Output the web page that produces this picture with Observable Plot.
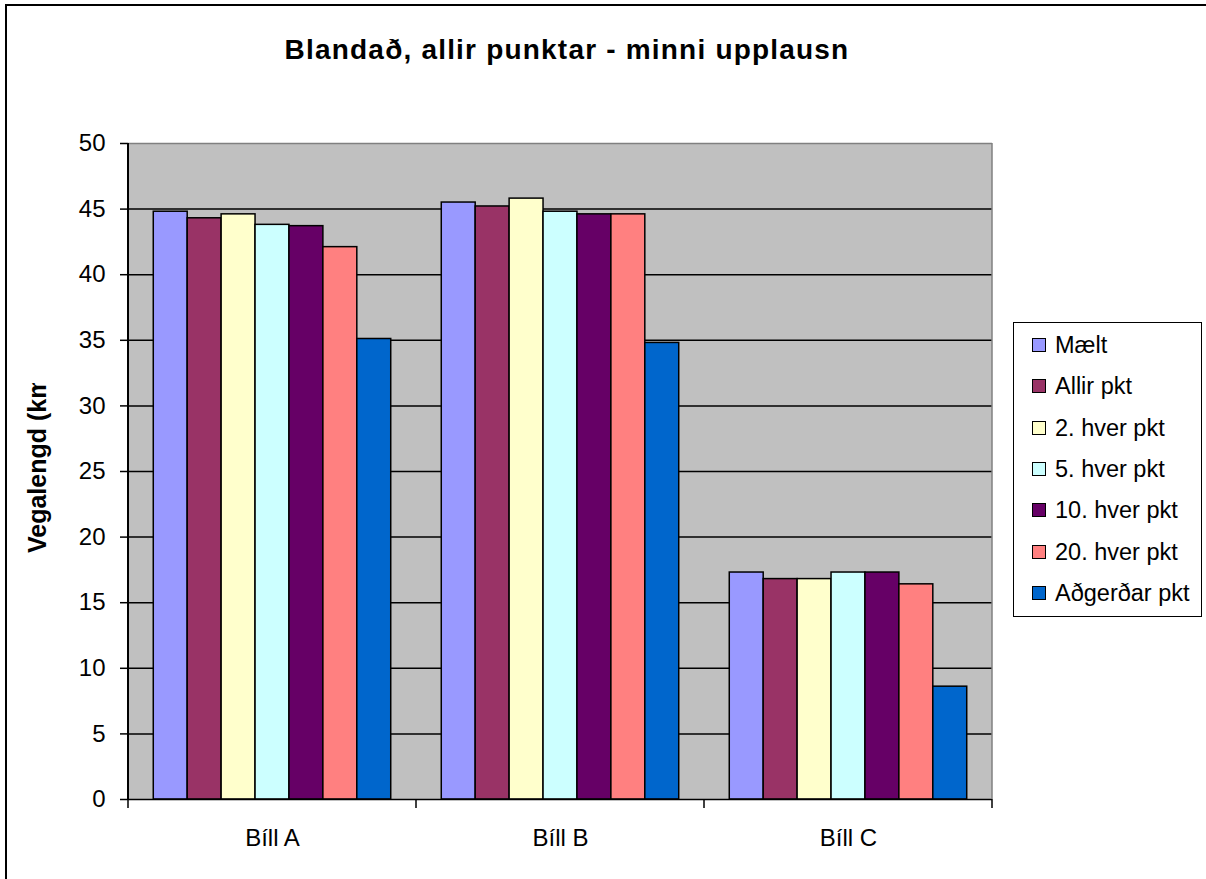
<!DOCTYPE html>
<html>
<head>
<meta charset="utf-8">
<script src="https://cdn.jsdelivr.net/npm/d3@7"></script>
<script src="https://cdn.jsdelivr.net/npm/@observablehq/plot@0.6"></script>
<style>
  html, body { margin: 0; padding: 0; background: #fff; }
  #wrap { position: relative; width: 1206px; height: 879px; overflow: hidden; font-family: "Liberation Sans", Arial, sans-serif; }
  #border { position: absolute; left: 5px; top: 4px; width: 1300px; height: 1000px; border-left: 2px solid #000; border-top: 2px solid #000; }
  #title { position: absolute; left: 0; top: 36px; width: 1134px; text-align: center; font-weight: bold; font-size: 28px; line-height: 27px; letter-spacing: 1.2px; color: #000; white-space: nowrap; }
  #legend { position: absolute; left: 1013px; top: 322px; width: 187px; height: 293px; border: 1.5px solid #000; background: #fff; }
  .item { position: absolute; left: 18px; height: 24px; font-size: 23.5px; line-height: 24px; white-space: nowrap; color: #000; }
  .sw { position: absolute; left: 0; top: 5px; width: 12px; height: 12px; border: 1.5px solid #000; }
  .lab { position: absolute; left: 23px; top: 0; }
  #plot { position: absolute; left: 0; top: 0; }
</style>
</head>
<body>
<div id="wrap">
  <div id="border"></div>
  <div id="plot"></div>
  <div id="title">Blandað, allir punktar - minni upplausn</div>
  <div id="legend"></div>
</div>
<script>
const categories = ["Bíll A", "Bíll B", "Bíll C"];
const series = ["Mælt", "Allir pkt", "2. hver pkt", "5. hver pkt", "10. hver pkt", "20. hver pkt", "Aðgerðar pkt"];
const maelt      = [44.8, 45.5, 17.3];
const allir      = [44.3, 45.2, 16.8];
const annar      = [44.6, 45.8, 16.8];
const fimmti     = [43.8, 44.8, 17.3];
const tiundi     = [43.7, 44.6, 17.3];
const tuttugasti = [42.1, 44.6, 16.4];
const adgerdar   = [35.1, 34.8, 8.6];
const colors = ["#9999FF", "#993366", "#FFFFCC", "#CCFFFF", "#660066", "#FF8080", "#0066CC"];
const yTicks = [0, 5, 10, 15, 20, 25, 30, 35, 40, 45, 50];
const title = "Blandað, allir punktar - minni upplausn";
const yLabel = "Vegalengd (km)";

const values = [maelt, allir, annar, fimmti, tiundi, tuttugasti, adgerdar];
const data = categories.flatMap((c, i) => series.map((s, j) => ({category: c, series: s, value: values[j][i]})));

const W = 1206, H = 879;
const plot = Plot.plot({
  width: W,
  height: H,
  marginLeft: 127,
  marginRight: 213,
  marginTop: 143,
  marginBottom: 80,
  style: {fontFamily: "'Liberation Sans', Arial, sans-serif", fontSize: "24px", background: "transparent", color: "#000", overflow: "visible"},
  fx: {domain: categories, padding: 0, label: null},
  x: {domain: series, paddingInner: 0, paddingOuter: 0.745, round: false, axis: null},
  y: {domain: [0, 50], label: null},
  color: {domain: series, range: colors},
  marks: [
    Plot.ruleY(yTicks.filter(d => d > 0 && d < 50), {stroke: "#000", strokeWidth: 1.5}),
    Plot.ruleY([50], {stroke: "#808080", strokeWidth: 1.5}),
    Plot.barY(data, {fx: "category", x: "series", y: "value", fill: "series", stroke: "#000", strokeWidth: 1.5, inset: 0}),
    Plot.ruleY([0], {stroke: "#000", strokeWidth: 1.5}),
    Plot.axisY({ticks: yTicks, tickSize: 8, tickPadding: 15, tickFormat: d => String(d), fontSize: 24, label: null, strokeWidth: 1.5}),
    Plot.axisFx({anchor: "bottom", tickSize: 0, tickPadding: 29, fontSize: 24, label: null})
  ]
});
document.getElementById("plot").appendChild(plot);

// plot-area background, axis lines and category boundary ticks, placed with the plot's own scales
const svg = d3.select(plot);
const fx = plot.scale("fx");
const y = plot.scale("y");
const y0 = y.apply(0), y50 = y.apply(50);
const xLeft = fx.apply(categories[0]);
const xRight = fx.apply(categories[categories.length - 1]) + fx.bandwidth;
svg.insert("rect", "g")
  .attr("x", xLeft).attr("y", y50).attr("width", xRight - xLeft).attr("height", y0 - y50)
  .attr("fill", "#C0C0C0");
svg.append("line").attr("x1", xRight).attr("x2", xRight).attr("y1", y50).attr("y2", y0)
  .attr("stroke", "#808080").attr("stroke-width", 1.5);
svg.append("line").attr("x1", xLeft).attr("x2", xLeft).attr("y1", y50).attr("y2", y0)
  .attr("stroke", "#000").attr("stroke-width", 2);
const bounds = categories.map(c => fx.apply(c)).concat([xRight]);
svg.append("g").selectAll("line").data(bounds).join("line")
  .attr("x1", d => d).attr("x2", d => d).attr("y1", y0).attr("y2", y0 + 9)
  .attr("stroke", "#000").attr("stroke-width", 1.5);

// y axis title (clipped as in the original)
const clipId = "ylabclip";
svg.append("defs").append("clipPath").attr("id", clipId)
  .append("rect").attr("x", 0).attr("y", 383).attr("width", 120).attr("height", 500);
svg.append("g").attr("clip-path", `url(#${clipId})`)
  .append("text")
  .attr("transform", `translate(46,553) rotate(-90)`)
  .attr("text-anchor", "start")
  .attr("font-weight", "bold").attr("font-size", 25).attr("fill", "#000")
  .attr("font-family", "'Liberation Sans', Arial, sans-serif")
  .text(yLabel);

// legend
const legend = d3.select("#legend");
series.forEach((s, i) => {
  const it = legend.append("div").attr("class", "item").style("top", (10 + i * 41.3) + "px");
  it.append("div").attr("class", "sw").style("background", colors[i]);
  it.append("div").attr("class", "lab").text(s);
});
</script>
</body>
</html>
